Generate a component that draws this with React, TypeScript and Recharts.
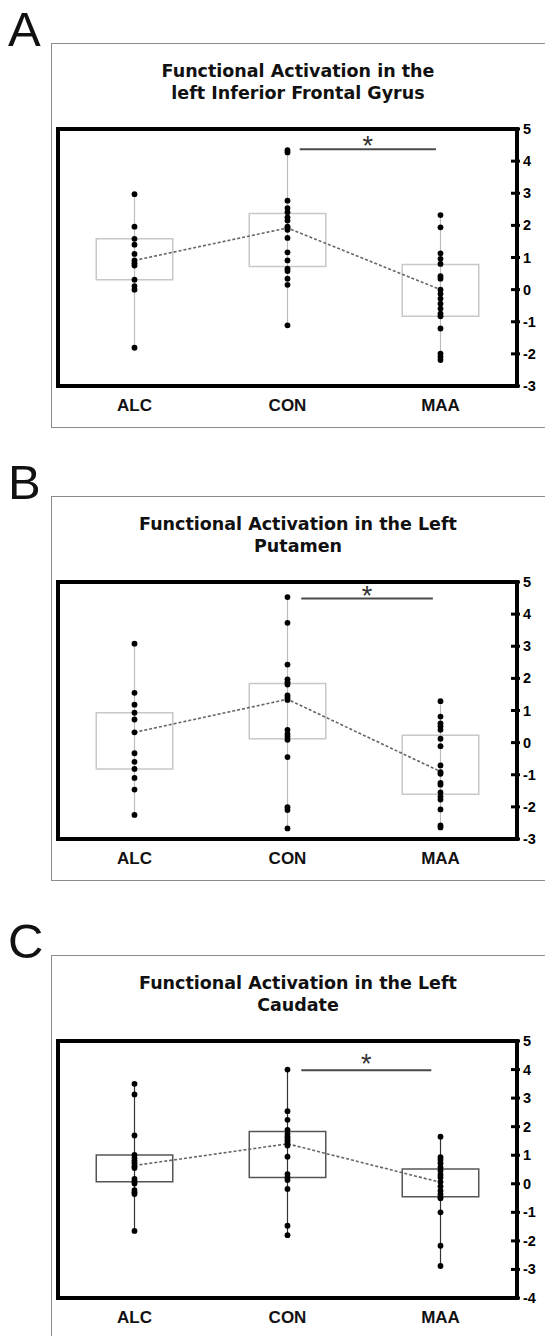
import React from 'react';
import {
  ComposedChart, XAxis, YAxis, Scatter, ReferenceArea, ReferenceLine, ReferenceDot,
} from 'recharts';

const GROUPS = ['ALC', 'CON', 'MAA'];

// A: left Inferior Frontal Gyrus
const ifgAlc = [2.97, 1.96, 1.58, 1.4, 1.11, 0.91, 0.82, 0.75, 0.31, 0.11, 0.0, -1.81];
const ifgCon = [4.34, 4.27, 2.77, 2.54, 2.41, 2.25, 2.15, 1.96, 1.92, 1.86, 1.61, 1.16, 0.91, 0.65, 0.58, 0.34, 0.15, -1.11];
const ifgMaa = [2.32, 1.94, 1.13, 0.96, 0.8, 0.42, 0.34, 0.0, -0.13, -0.28, -0.44, -0.59, -0.75, -0.83, -1.21, -1.99, -2.09, -2.19];
const ifgBoxes = [[0.31, 1.58], [0.72, 2.37], [-0.83, 0.78]];
const ifgMeans = [0.91, 1.92, 0.0];

// B: left Putamen
const putAlc = [3.08, 1.55, 1.18, 0.93, 0.72, 0.32, -0.33, -0.6, -0.82, -1.1, -1.46, -2.25];
const putCon = [4.53, 3.73, 2.43, 1.97, 1.88, 1.81, 1.47, 1.4, 1.33, 0.4, 0.27, 0.19, 0.09, -0.45, -2.01, -2.1, -2.67];
const putMaa = [1.29, 0.81, 0.6, 0.51, 0.4, 0.12, -0.11, -0.71, -0.92, -0.97, -1.25, -1.31, -1.55, -1.68, -1.77, -2.08, -2.58, -2.64];
const putBoxes = [[-0.82, 0.93], [0.12, 1.84], [-1.61, 0.23]];
const putMeans = [0.32, 1.35, -0.9];

// C: left Caudate
const cauAlc = [3.5, 3.13, 1.69, 1.01, 0.9, 0.81, 0.72, 0.61, 0.55, 0.17, 0.08, 0.01, -0.22, -0.3, -0.36, -1.65];
const cauCon = [4.0, 2.54, 2.24, 1.89, 1.75, 1.65, 1.57, 1.49, 1.4, 1.34, 0.95, 0.34, 0.22, 0.13, -0.18, -1.47, -1.8];
const cauMaa = [1.65, 0.93, 0.84, 0.72, 0.58, 0.46, 0.32, 0.22, 0.07, -0.09, -0.24, -0.36, -0.45, -0.51, -1.0, -2.17, -2.88];
const cauBoxes = [[0.07, 1.01], [0.22, 1.83], [-0.45, 0.52]];
const cauMeans = [0.64, 1.4, 0.05];

const ticksAB = [-3, -2, -1, 0, 1, 2, 3, 4, 5];
const ticksC = [-4, -3, -2, -1, 0, 1, 2, 3, 4, 5];

const panels = [
  {
    letter: 'A', top: 0, title: ['Functional Activation in the', 'left Inferior Frontal Gyrus'],
    groups: [ifgAlc, ifgCon, ifgMaa], boxes: ifgBoxes, means: ifgMeans, ticks: ticksAB,
    sig: { x1: 1.58, x2: 2.47, y: 4.37, star: 4.66 }, dark: false, frameH: 384,
  },
  {
    letter: 'B', top: 453, title: ['Functional Activation in the Left', 'Putamen'],
    groups: [putAlc, putCon, putMaa], boxes: putBoxes, means: putMeans, ticks: ticksAB,
    sig: { x1: 1.59, x2: 2.45, y: 4.49, star: 4.75 }, dark: false, frameH: 384,
  },
  {
    letter: 'C', top: 912, title: ['Functional Activation in the Left', 'Caudate'],
    groups: [cauAlc, cauCon, cauMaa], boxes: cauBoxes, means: cauMeans, ticks: ticksC,
    sig: { x1: 1.59, x2: 2.44, y: 3.98, star: 4.4 }, dark: true, frameH: 500,
  },
];

const RightTick = (props: any) => {
  const { x, y, payload } = props;
  const ax = x - 7;
  return (
    <g>
      <line x1={ax - 6} x2={ax + 3} y1={y} y2={y} stroke="#000" strokeWidth={3} />
      <text x={x - 1} y={y} dy={5} fontFamily="Liberation Sans, Arial" fontWeight="bold" fontSize={14.5} fill="#000">
        {payload.value}
      </text>
    </g>
  );
};

function Panel({ p }: { p: (typeof panels)[number] }) {
  const yMin = p.ticks[0];
  const yMax = p.ticks[p.ticks.length - 1];
  const boxStroke = p.dark ? '#555' : '#c8c8c8';
  const whiskerStroke = p.dark ? '#333' : '#bdbdbd';
  const meanPts = p.means.map((m, i) => ({ x: i + 0.5, y: m }));

  return (
    <div style={{ position: 'absolute', left: 0, top: p.top }}>
      <ComposedChart width={545} height={440} margin={{ top: 129, right: 0, bottom: 24, left: 58 }}>
        <XAxis
          type="number"
          dataKey="x"
          domain={[0, 3]}
          ticks={[0.5, 1.5, 2.5]}
          tickFormatter={(v: number) => GROUPS[Math.floor(v)]}
          axisLine={false}
          tickLine={false}
          tickSize={0}
          tickMargin={13}
          height={30}
          tick={{ fill: '#111', fontSize: 17, fontWeight: 'bold', fontFamily: 'Liberation Sans, Arial' }}
        />
        <YAxis
          type="number"
          dataKey="y"
          orientation="right"
          domain={[yMin, yMax]}
          ticks={p.ticks}
          interval={0}
          width={28}
          tickSize={0}
          tickMargin={7}
          tickLine={false}
          axisLine={{ stroke: '#000', strokeWidth: 4 }}
          tick={<RightTick />}
        />
        <ReferenceArea x1={0} x2={3} y1={yMin} y2={yMax} fill="none" stroke="#000" strokeWidth={4} ifOverflow="visible" />
        {p.boxes.map(([lo, hi], i) => (
          <ReferenceArea
            key={`box${i}`}
            x1={i + 0.25}
            x2={i + 0.75}
            y1={lo}
            y2={hi}
            fill="none"
            fillOpacity={0}
            stroke={boxStroke}
            strokeWidth={1.5}
            ifOverflow="visible"
          />
        ))}
        {p.groups.map((vals, i) => (
          <ReferenceLine
            key={`wh${i}`}
            segment={[{ x: i + 0.5, y: Math.min(...vals) }, { x: i + 0.5, y: Math.max(...vals) }]}
            stroke={whiskerStroke}
            strokeWidth={1.2}
            ifOverflow="visible"
          />
        ))}
        <Scatter
          data={meanPts}
          fill="#777"
          line={{ stroke: '#666', strokeWidth: 1.6, strokeDasharray: '3 2' }}
          shape={() => <g />}
          isAnimationActive={false}
        />
        {p.groups.map((vals, i) => (
          <Scatter
            key={`dots${i}`}
            data={vals.map((v) => ({ x: i + 0.5, y: v }))}
            fill="#000"
            shape={(s: any) => <circle cx={s.cx} cy={s.cy} r={2.9} fill="#000" />}
            isAnimationActive={false}
          />
        ))}
        <ReferenceLine
          segment={[{ x: p.sig.x1, y: p.sig.y }, { x: p.sig.x2, y: p.sig.y }]}
          stroke="#4a4a4a"
          strokeWidth={2}
          ifOverflow="visible"
        />
        <ReferenceDot
          x={(p.sig.x1 + p.sig.x2) / 2}
          y={p.sig.star}
          r={0}
          ifOverflow="visible"
          shape={(s: any) => (
            <text x={s.cx} y={s.cy + 15} textAnchor="middle" fontSize={27} fontFamily="Liberation Sans, Arial" fill="#333">
              *
            </text>
          )}
        />
      </ComposedChart>
    </div>
  );
}

export default function App() {
  return (
    <div style={{ position: 'absolute', left: 0, top: 0, width: 545, height: 1336, overflow: 'hidden', background: '#fff' }}>
      <svg width={545} height={1336} style={{ position: 'absolute', left: 0, top: 0 }}>
        {panels.map((p) => (
          <g key={p.letter}>
            <text x={8} y={p.top + 46} fontFamily="Liberation Sans, Arial" fontSize={49} fill="#111">
              {p.letter}
            </text>
            <rect x={51.5} y={p.top + 43.5} width={600} height={p.frameH} fill="none" stroke="#8c8c8c" strokeWidth={1} />
            {p.title.map((line, j) => (
              <text
                key={j}
                x={298}
                y={p.top + 77 + j * 22}
                textAnchor="middle"
                fontFamily="DejaVu Sans"
                fontWeight="bold"
                fontSize={17.5}
                fill="#111"
              >
                {line}
              </text>
            ))}
          </g>
        ))}
      </svg>
      {panels.map((p) => (
        <Panel key={p.letter} p={p} />
      ))}
    </div>
  );
}
